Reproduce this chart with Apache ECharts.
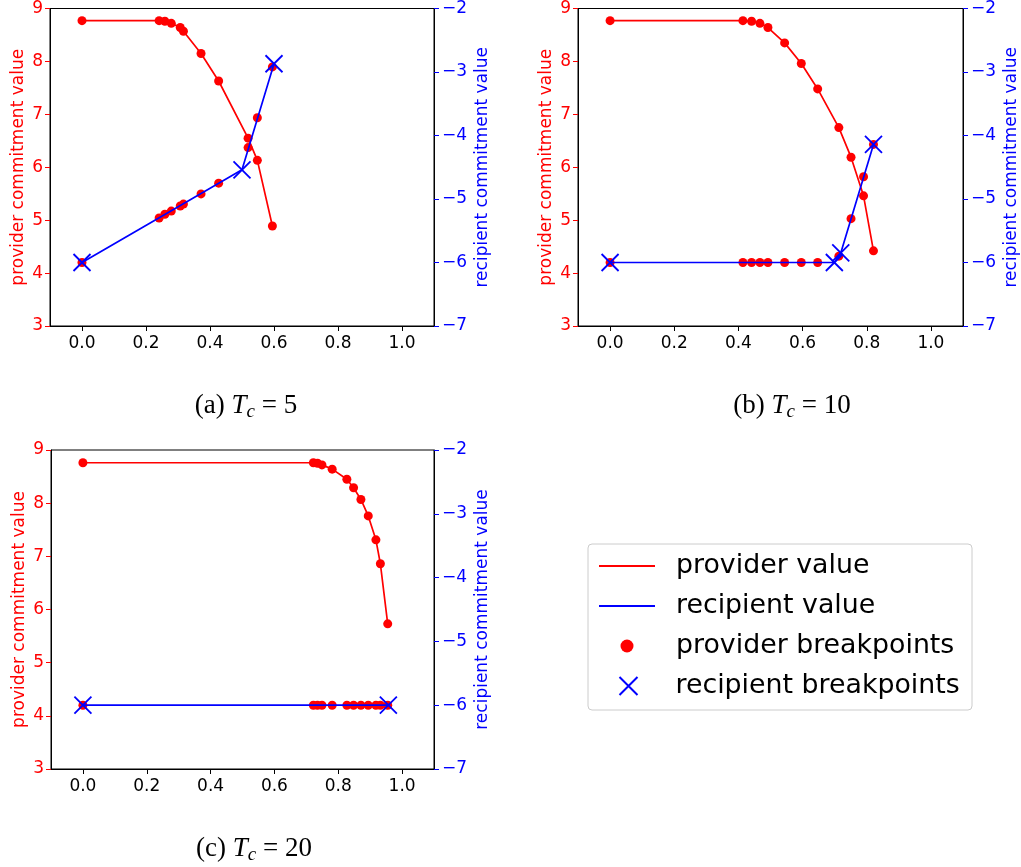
<!DOCTYPE html>
<html>
<head>
<meta charset="utf-8">
<script src="https://cdn.jsdelivr.net/npm/echarts@6/dist/echarts.min.js"></script>
<style>
    html, body { margin: 0; padding: 0; background: #fff; }
    #main { width: 1021px; height: 867px; }
</style>
</head>
<body>
<div id="main"></div>
<script>
    // captions
    var panelTags = ['(a)', '(b)', '(c)'];
    var tcValues = [5, 10, 20];
    var xTicks = [0.0, 0.2, 0.4, 0.6, 0.8, 1.0];

    // T_c = 5
    var provX5 = [0, 0.241, 0.259, 0.279, 0.307, 0.317, 0.372, 0.427, 0.519, 0.548, 0.595];
    var provY5 = [8.77, 8.77, 8.76, 8.72, 8.64, 8.57, 8.15, 7.63, 6.55, 6.13, 4.89];
    var recAtProv5 = [-6.00, -5.30, -5.24, -5.19, -5.11, -5.08, -4.92, -4.75, -4.19, -3.72, -2.92];
    var recX5 = [0, 0.500, 0.600];
    var recY5 = [-6.00, -4.54, -2.87];

    // T_c = 10
    var provX10 = [0, 0.414, 0.441, 0.467, 0.492, 0.544, 0.596, 0.647, 0.713, 0.751, 0.790, 0.821];
    var provY10 = [8.77, 8.77, 8.76, 8.72, 8.64, 8.35, 7.96, 7.48, 6.75, 6.19, 5.46, 4.42];
    var recAtProv10 = [-6.00, -6.00, -6.00, -6.00, -6.00, -6.00, -6.00, -6.00, -5.90, -5.31, -4.65, -4.14];
    var recX10 = [0, 0.699, 0.719, 0.821];
    var recY10 = [-6.00, -6.00, -5.85, -4.14];

    // T_c = 20
    var provX20 = [0, 0.722, 0.735, 0.749, 0.781, 0.827, 0.848, 0.871, 0.894, 0.918, 0.932, 0.955];
    var provY20 = [8.76, 8.76, 8.75, 8.72, 8.64, 8.45, 8.29, 8.07, 7.76, 7.31, 6.86, 5.73];
    var recAtProv20 = [-6.00, -6.00, -6.00, -6.00, -6.00, -6.00, -6.00, -6.00, -6.00, -6.00, -6.00, -6.00];
    var recX20 = [0, 0.957];
    var recY20 = [-6.00, -6.00];

    var panels = [
        {px: provX5, py: provY5, rp: recAtProv5, rx: recX5, ry: recY5},
        {px: provX10, py: provY10, rp: recAtProv10, rx: recX10, ry: recY10},
        {px: provX20, py: provY20, rp: recAtProv20, rx: recX20, ry: recY20}
    ];

    var gridBoxes = [
        {left: 50, top: 7, width: 384, height: 319},
        {left: 578, top: 7, width: 385, height: 319},
        {left: 51, top: 450, width: 383, height: 319}
    ];
    var captionPos = [[241, 386], [787, 386], [249, 829]];

    var RED = '#ff0000', BLUE = '#0000ff';
    var sans = 'DejaVu Sans';
    var serif = 'Liberation Serif';
    var crossPath = 'path://M0,0L10,10M10,0L0,10';
    var linePath = 'path://M0,0H56V2.2H0Z';

    function pairs(xs, ys) {
        return xs.map(function (x, i) { return [x, ys[i]]; });
    }
    function minus(v) {
        return v < 0 ? '\u2212' + Math.abs(v) : String(v);
    }

    var grids = [], xAxes = [], yAxes = [], series = [], titles = [];
    panels.forEach(function (p, i) {
        var g = gridBoxes[i];
        grids.push({left: g.left, top: g.top, width: g.width, height: g.height,
            show: true, borderColor: '#000', borderWidth: 1, containLabel: false});
        xAxes.push({
            gridIndex: i, type: 'value', min: -0.1, max: 1.1,
            axisLine: {show: true, onZero: false, lineStyle: {color: '#000', width: 1}},
            axisTick: {show: true, length: 5, customValues: xTicks, lineStyle: {color: '#000'}},
            axisLabel: {customValues: xTicks, fontSize: 17, fontFamily: sans, color: '#000', margin: 9,
                formatter: function (v) { return v.toFixed(1); }},
            splitLine: {show: false}
        });
        yAxes.push({
            gridIndex: i, type: 'value', position: 'left', min: 3, max: 9, interval: 1,
            axisLine: {show: true, onZero: false, lineStyle: {color: '#000'}},
            axisTick: {show: true, length: 5, lineStyle: {color: RED}},
            axisLabel: {color: RED, fontSize: 17, fontFamily: sans, margin: 7},
            splitLine: {show: false},
            name: 'provider commitment value', nameLocation: 'middle', nameRotate: 90, nameGap: 23,
            nameTextStyle: {color: RED, fontSize: 17, fontFamily: sans}
        });
        yAxes.push({
            gridIndex: i, type: 'value', position: 'right', min: -7, max: -2, interval: 1,
            axisLine: {show: true, onZero: false, lineStyle: {color: '#000'}},
            axisTick: {show: true, length: 5, lineStyle: {color: BLUE}},
            axisLabel: {color: BLUE, fontSize: 17, fontFamily: sans, margin: 8, formatter: minus},
            splitLine: {show: false},
            name: 'recipient commitment value', nameLocation: 'middle', nameRotate: 90, nameGap: 40,
            nameTextStyle: {color: BLUE, fontSize: 17, fontFamily: sans}
        });

        series.push({
            name: 'provider value', type: 'line', xAxisIndex: i, yAxisIndex: 2 * i,
            data: pairs(p.px, p.py), symbol: 'none', z: 2,
            lineStyle: {color: RED, width: 1.7}, itemStyle: {color: RED}
        });
        series.push({
            name: 'provider breakpoints', type: 'scatter', xAxisIndex: i, yAxisIndex: 2 * i,
            data: pairs(p.px, p.py), symbol: 'circle', symbolSize: 9, z: 3,
            itemStyle: {color: RED, opacity: 1}
        });
        series.push({
            name: 'provider breakpoints', type: 'scatter', xAxisIndex: i, yAxisIndex: 2 * i + 1,
            data: pairs(p.px, p.rp), symbol: 'circle', symbolSize: 9, z: 4,
            itemStyle: {color: RED, opacity: 1}
        });
        series.push({
            name: 'recipient value', type: 'line', xAxisIndex: i, yAxisIndex: 2 * i + 1,
            data: pairs(p.rx, p.ry), symbol: 'none', z: 5,
            lineStyle: {color: BLUE, width: 1.7}, itemStyle: {color: BLUE}
        });
        series.push({
            name: 'recipient breakpoints', type: 'scatter', xAxisIndex: i, yAxisIndex: 2 * i + 1,
            data: pairs(p.rx, p.ry), symbol: crossPath, symbolSize: 17, symbolKeepAspect: true, z: 6,
            itemStyle: {color: 'none', borderColor: BLUE, borderWidth: 1.8, opacity: 1}
        });

        titles.push({
            text: '{n|' + panelTags[i] + ' }{i|T}{s|c}{n| = ' + tcValues[i] + '}',
            left: captionPos[i][0], top: captionPos[i][1], textAlign: 'center',
            textStyle: {
                fontWeight: 'normal',
                rich: {
                    n: {fontFamily: serif, fontSize: 27, fontWeight: 'normal', color: '#000', lineHeight: 30},
                    i: {fontFamily: serif, fontSize: 27, fontWeight: 'normal', fontStyle: 'italic', color: '#000', lineHeight: 30},
                    s: {fontFamily: serif, fontSize: 19, fontWeight: 'normal', fontStyle: 'italic', color: '#000', lineHeight: 14, verticalAlign: 'bottom'}
                }
            }
        });
    });

    var myChart = echarts.init(document.getElementById('main'), null, {renderer: 'canvas'});
    var option = {
        backgroundColor: '#fff',
        animation: false,
        title: titles,
        legend: [
            {
                data: [
                    {name: 'provider value', icon: linePath},
                    {name: 'recipient value', icon: linePath},
                    {name: 'provider breakpoints', icon: 'circle'}
                ],
                orient: 'vertical', left: 588, top: 544, padding: [7, 6, 49, 11],
                itemWidth: 56, itemHeight: 13, itemGap: 10,
                borderColor: '#cccccc', borderWidth: 1, borderRadius: 4, backgroundColor: '#fff',
                textStyle: {fontSize: 26.8, fontFamily: sans, color: '#000', lineHeight: 30, padding: [0, 0, 0, 16], width: 290},
                selectedMode: false
            },
            {
                data: [{name: 'recipient breakpoints'}],
                orient: 'vertical', left: 617, top: 671, padding: 0, z: 6,
                itemWidth: 18, itemHeight: 18,
                textStyle: {fontSize: 26.8, fontFamily: sans, color: '#000', lineHeight: 30, padding: [0, 0, 0, 33], width: 290},
                selectedMode: false
            }
        ],
        grid: grids,
        xAxis: xAxes,
        yAxis: yAxes,
        series: series
    };
    myChart.setOption(option);
</script>
</body>
</html>
